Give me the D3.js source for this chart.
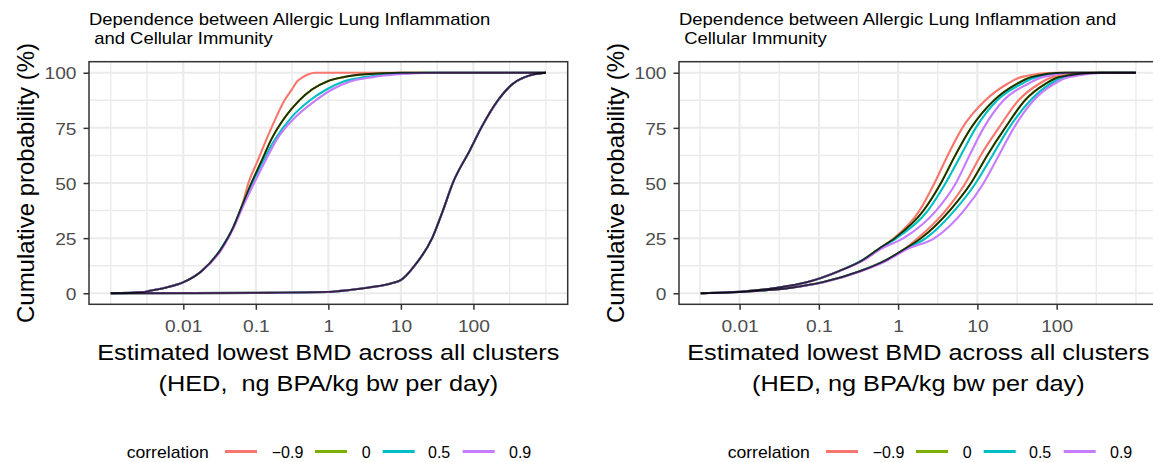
<!DOCTYPE html>
<html><head><meta charset="utf-8">
<script src="https://cdn.jsdelivr.net/npm/d3@7"></script>
<style>
body{margin:0;background:#fff}
text{font-family:"Liberation Sans",Arial,Helvetica,sans-serif;white-space:pre}
</style>
</head><body>
<svg id="chart" width="1153" height="462"></svg>
<script>
// ---------- data ----------
const correlations = ["\u22120.9", "0", "0.5", "0.9"];
const seriesColors = ["#F8766D", "#7CAE00", "#00BFC4", "#C77CFF"];
const xTickValues = [0.01, 0.1, 1, 10, 100];
const xTickLabels = ["0.01", "0.1", "1", "10", "100"];
const yTickValues = [0, 25, 50, 75, 100];
const yTickLabels = ["0", "25", "50", "75", "100"];

// Left panel – early curve: cumulative % levels and BMD quantile for each correlation
const leftEarlyPct   = [0, 0.5, 1, 2.5, 5, 10, 20, 30, 40, 50, 60, 70, 80, 87.5, 92.5, 96, 98, 99.3, 100, 100];
const leftEarlyNeg09 = [0.001, 0.0028, 0.0033, 0.0056, 0.01, 0.0178, 0.033, 0.049, 0.065, 0.079, 0.106, 0.141, 0.192, 0.249, 0.315, 0.37, 0.445, 0.53, 0.67, 1000];
const leftEarly0     = [0.001, 0.0028, 0.0033, 0.0056, 0.01, 0.0178, 0.033, 0.049, 0.065, 0.087, 0.12, 0.165, 0.255, 0.398, 0.60, 0.955, 1.62, 3.2, 10, 1000];
const leftEarly05    = [0.001, 0.0028, 0.0033, 0.0056, 0.01, 0.0178, 0.033, 0.049, 0.066, 0.09, 0.126, 0.186, 0.314, 0.56, 0.955, 1.62, 3.2, 6.6, 22, 1000];
const leftEarly09    = [0.001, 0.0028, 0.0033, 0.0056, 0.01, 0.0178, 0.034, 0.05, 0.068, 0.095, 0.135, 0.197, 0.355, 0.67, 1.14, 2.0, 4.1, 9.3, 30, 1000];

// Left panel – late curve (all correlations overlap)
const leftLatePct = [0, 0.05, 0.2, 0.6, 1.5, 2.6, 4, 4.5, 6, 8.5, 12, 25, 37.5, 50, 65, 75, 87.5, 95, 99, 100];
const leftLateAll = [0.001, 0.01, 0.1, 1, 2, 3.6, 6.5, 7.4, 10, 12.2, 15, 27, 38, 52, 90, 128, 218, 350, 630, 1000];

// Right panel – cumulative % levels shared by all curves
const rightPct = [0, 1, 2.5, 5, 10, 15, 20, 25, 37.5, 50, 62.5, 75, 87.5, 95, 98, 100, 100];
const rightEarlyNeg09 = [0.00324, 0.0126, 0.0302, 0.0708, 0.178, 0.355, 0.562, 0.891, 1.86, 2.88, 4.22, 6.46, 12.6, 24.0, 35.5, 100, 1000];
const rightEarly0     = [0.00324, 0.0126, 0.0302, 0.0708, 0.178, 0.355, 0.562, 0.912, 2.09, 3.47, 5.25, 8.32, 16.2, 31.6, 47.9, 126, 1000];
const rightEarly05    = [0.00324, 0.0126, 0.0302, 0.0708, 0.178, 0.355, 0.575, 0.955, 2.37, 3.98, 6.17, 9.55, 17.8, 36.3, 55.0, 158, 1000];
const rightEarly09    = [0.00324, 0.0126, 0.0302, 0.0708, 0.18, 0.37, 0.6, 1.17, 3.02, 5.37, 7.94, 12.0, 21.4, 43.7, 66.1, 200, 1000];
const rightLateNeg09  = [0.00324, 0.0158, 0.0447, 0.112, 0.33, 0.70, 1.2, 1.78, 3.98, 7.08, 11.0, 18.6, 33.1, 60.3, 89.1, 316, 1000];
const rightLate0      = [0.00324, 0.0158, 0.0447, 0.112, 0.33, 0.70, 1.2, 1.95, 4.47, 8.32, 13.3, 22.4, 39.8, 72.4, 107, 355, 1000];
const rightLate05     = [0.00324, 0.0158, 0.0447, 0.112, 0.33, 0.71, 1.23, 2.24, 5.13, 9.55, 15.5, 25.1, 46.8, 83.2, 123, 398, 1000];
const rightLate09     = [0.00324, 0.0158, 0.0447, 0.115, 0.34, 0.74, 1.3, 2.88, 6.76, 12.0, 18.6, 28.8, 51.3, 93.3, 141, 501, 1000];

const leftTitle = ["Dependence between Allergic Lung Inflammation", " and Cellular Immunity"];
const rightTitle = ["Dependence between Allergic Lung Inflammation and", " Cellular Immunity"];
const leftXTitle = ["Estimated lowest BMD across all clusters", "(HED,  ng BPA/kg bw per day)"];
const rightXTitle = ["Estimated lowest BMD across all clusters", "(HED, ng BPA/kg bw per day)"];
const yTitle = "Cumulative probability (%)";
const legendTitle = "correlation";

// ---------- build ----------
const svg = d3.select("#chart");
const SX = 1.13; // horizontal text stretch seen in the reference

function stretchedText(g, x, y, s, size, anchor, fill, sx) {
  return g.append("text")
    .attr("transform", `translate(${x},${y}) scale(${sx || SX},1)`)
    .attr("text-anchor", anchor)
    .attr("font-size", size)
    .attr("fill", fill)
    .text(s);
}

function drawPanel(cfg) {
  const g = svg.append("g");
  const lo = Math.log10(cfg.xMin), hi = Math.log10(cfg.xMax);
  const pad = 0.05 * (hi - lo);
  const x = d3.scaleLog().domain([Math.pow(10, lo - pad), Math.pow(10, hi + pad)]).range([cfg.x0, cfg.x1]);
  const y = d3.scaleLinear().domain([-5, 105]).range([cfg.y1, cfg.y0]);

  const clipId = "clip" + cfg.id;
  svg.append("clipPath").attr("id", clipId).append("rect")
    .attr("x", cfg.x0).attr("y", cfg.y0).attr("width", cfg.x1 - cfg.x0).attr("height", cfg.y1 - cfg.y0);
  const inner = g.append("g").attr("clip-path", `url(#${clipId})`);

  // minor grid
  const xMinor = d3.range(-3, 3.01, 0.5).map(v => Math.pow(10, v)).filter(v => v > x.domain()[0] && v < x.domain()[1]);
  const yMinor = [12.5, 37.5, 62.5, 87.5];
  inner.selectAll(".xmin").data(xMinor).enter().append("line")
    .attr("x1", d => x(d)).attr("x2", d => x(d)).attr("y1", cfg.y0).attr("y2", cfg.y1)
    .attr("stroke", "#EBEBEB").attr("stroke-width", 1.4);
  inner.selectAll(".ymin").data(yMinor).enter().append("line")
    .attr("x1", cfg.x0).attr("x2", cfg.x1).attr("y1", d => y(d)).attr("y2", d => y(d))
    .attr("stroke", "#EBEBEB").attr("stroke-width", 1.4);
  // major grid
  inner.selectAll(".xmaj").data(xTickValues).enter().append("line")
    .attr("x1", d => x(d)).attr("x2", d => x(d)).attr("y1", cfg.y0).attr("y2", cfg.y1)
    .attr("stroke", "#EBEBEB").attr("stroke-width", 2);
  inner.selectAll(".ymaj").data(yTickValues).enter().append("line")
    .attr("x1", cfg.x0).attr("x2", cfg.x1).attr("y1", d => y(d)).attr("y2", d => y(d))
    .attr("stroke", "#EBEBEB").attr("stroke-width", 2);

  // curves
  const line = d3.line().x(d => x(d[0])).y(d => y(d[1])).curve(d3.curveMonotoneX);
  cfg.groups.forEach(grp => {
    grp.series.forEach((vals, i) => {
      const pts = vals.map((v, k) => [v, grp.pct[k]]);
      inner.append("path").attr("d", line(pts)).attr("fill", "none")
        .attr("stroke", seriesColors[i]).attr("stroke-width", 2.1).attr("stroke-linejoin", "round");
    });
  });
  cfg.groups.forEach(grp => {
    const pts = grp.series[1].map((v, k) => [v, grp.pct[k]]);
    inner.append("path").attr("d", line(pts)).attr("fill", "none")
      .attr("stroke", "#000").attr("stroke-opacity", 0.75).attr("stroke-width", 1.8).attr("stroke-linejoin", "round");
  });

  // border
  g.append("rect").attr("x", cfg.x0).attr("y", cfg.y0).attr("width", cfg.x1 - cfg.x0).attr("height", cfg.y1 - cfg.y0)
    .attr("fill", "none").attr("stroke", "#333333").attr("stroke-width", 1.5);

  // axes (d3 axes, then styled)
  const xAxis = d3.axisBottom(x).tickValues(xTickValues).tickSize(5.5);
  const gx = g.append("g").attr("transform", `translate(0,${cfg.y1})`).call(xAxis);
  gx.select(".domain").remove();
  gx.selectAll(".tick line").attr("stroke", "#333333").attr("stroke-width", 1.5);
  gx.selectAll(".tick text").remove();
  gx.selectAll(".tick").each(function(d, i) {
    stretchedText(d3.select(this), 0, 27.4, xTickLabels[i], 17, "middle", "#4D4D4D");
  });

  const yAxis = d3.axisLeft(y).tickValues(yTickValues).tickSize(5.5);
  const gy = g.append("g").attr("transform", `translate(${cfg.x0},0)`).call(yAxis);
  gy.select(".domain").remove();
  gy.selectAll(".tick line").attr("stroke", "#333333").attr("stroke-width", 1.5);
  gy.selectAll(".tick text").remove();
  gy.selectAll(".tick").each(function(d, i) {
    stretchedText(d3.select(this), -12.5, 6.2, yTickLabels[i], 17, "end", "#4D4D4D");
  });

  // titles
  cfg.title.forEach((s, i) => stretchedText(g, cfg.x0, 24.5 + i * 19.5, s, 16, "start", "#000", 1.155));
  const cx = (cfg.x0 + cfg.x1) / 2;
  cfg.xTitle.forEach((s, i) => stretchedText(g, cx, 360 + i * 31, s, 22, "middle", "#000", 1.15));
  g.append("text")
    .attr("transform", `translate(${cfg.x0 - 55},${(cfg.y0 + cfg.y1) / 2}) rotate(-90)`)
    .attr("text-anchor", "middle").attr("font-size", 24).attr("fill", "#000").text(yTitle);

  const keyOffsets = [98.3, 188.3, 256, 336];
  const labelOffsets = [145, 235, 301.3, 382.3];
  const lg = g.append("g").attr("transform", `translate(${cfg.legendStart},0)`);
  const baseY = 457.5;
  stretchedText(lg, 0, baseY, legendTitle, 16, "start", "#000", 1.1);
  correlations.forEach((c, i) => {
    lg.append("line").attr("x1", keyOffsets[i]).attr("x2", keyOffsets[i] + 32)
      .attr("y1", baseY - 6).attr("y2", baseY - 6)
      .attr("stroke", seriesColors[i]).attr("stroke-width", 3);
    stretchedText(lg, labelOffsets[i], baseY, c, 16, "start", "#000", 1.0);
  });
}

drawPanel({
  id: "L", x0: 89, x1: 567.7, y0: 61.7, y1: 304.3, xMin: 0.001, xMax: 1000,
  legendStart: 126.7, title: leftTitle, xTitle: leftXTitle,
  groups: [
    { pct: leftEarlyPct, series: [leftEarlyNeg09, leftEarly0, leftEarly05, leftEarly09] },
    { pct: leftLatePct, series: [leftLateAll, leftLateAll, leftLateAll, leftLateAll] }
  ]
});
drawPanel({
  id: "R", x0: 679, x1: 1157.7, y0: 61.7, y1: 304.3, xMin: 0.00324, xMax: 1000,
  legendStart: 727.7, title: rightTitle, xTitle: rightXTitle,
  groups: [
    { pct: rightPct, series: [rightEarlyNeg09, rightEarly0, rightEarly05, rightEarly09] },
    { pct: rightPct, series: [rightLateNeg09, rightLate0, rightLate05, rightLate09] }
  ]
});
</script>
</body></html>
